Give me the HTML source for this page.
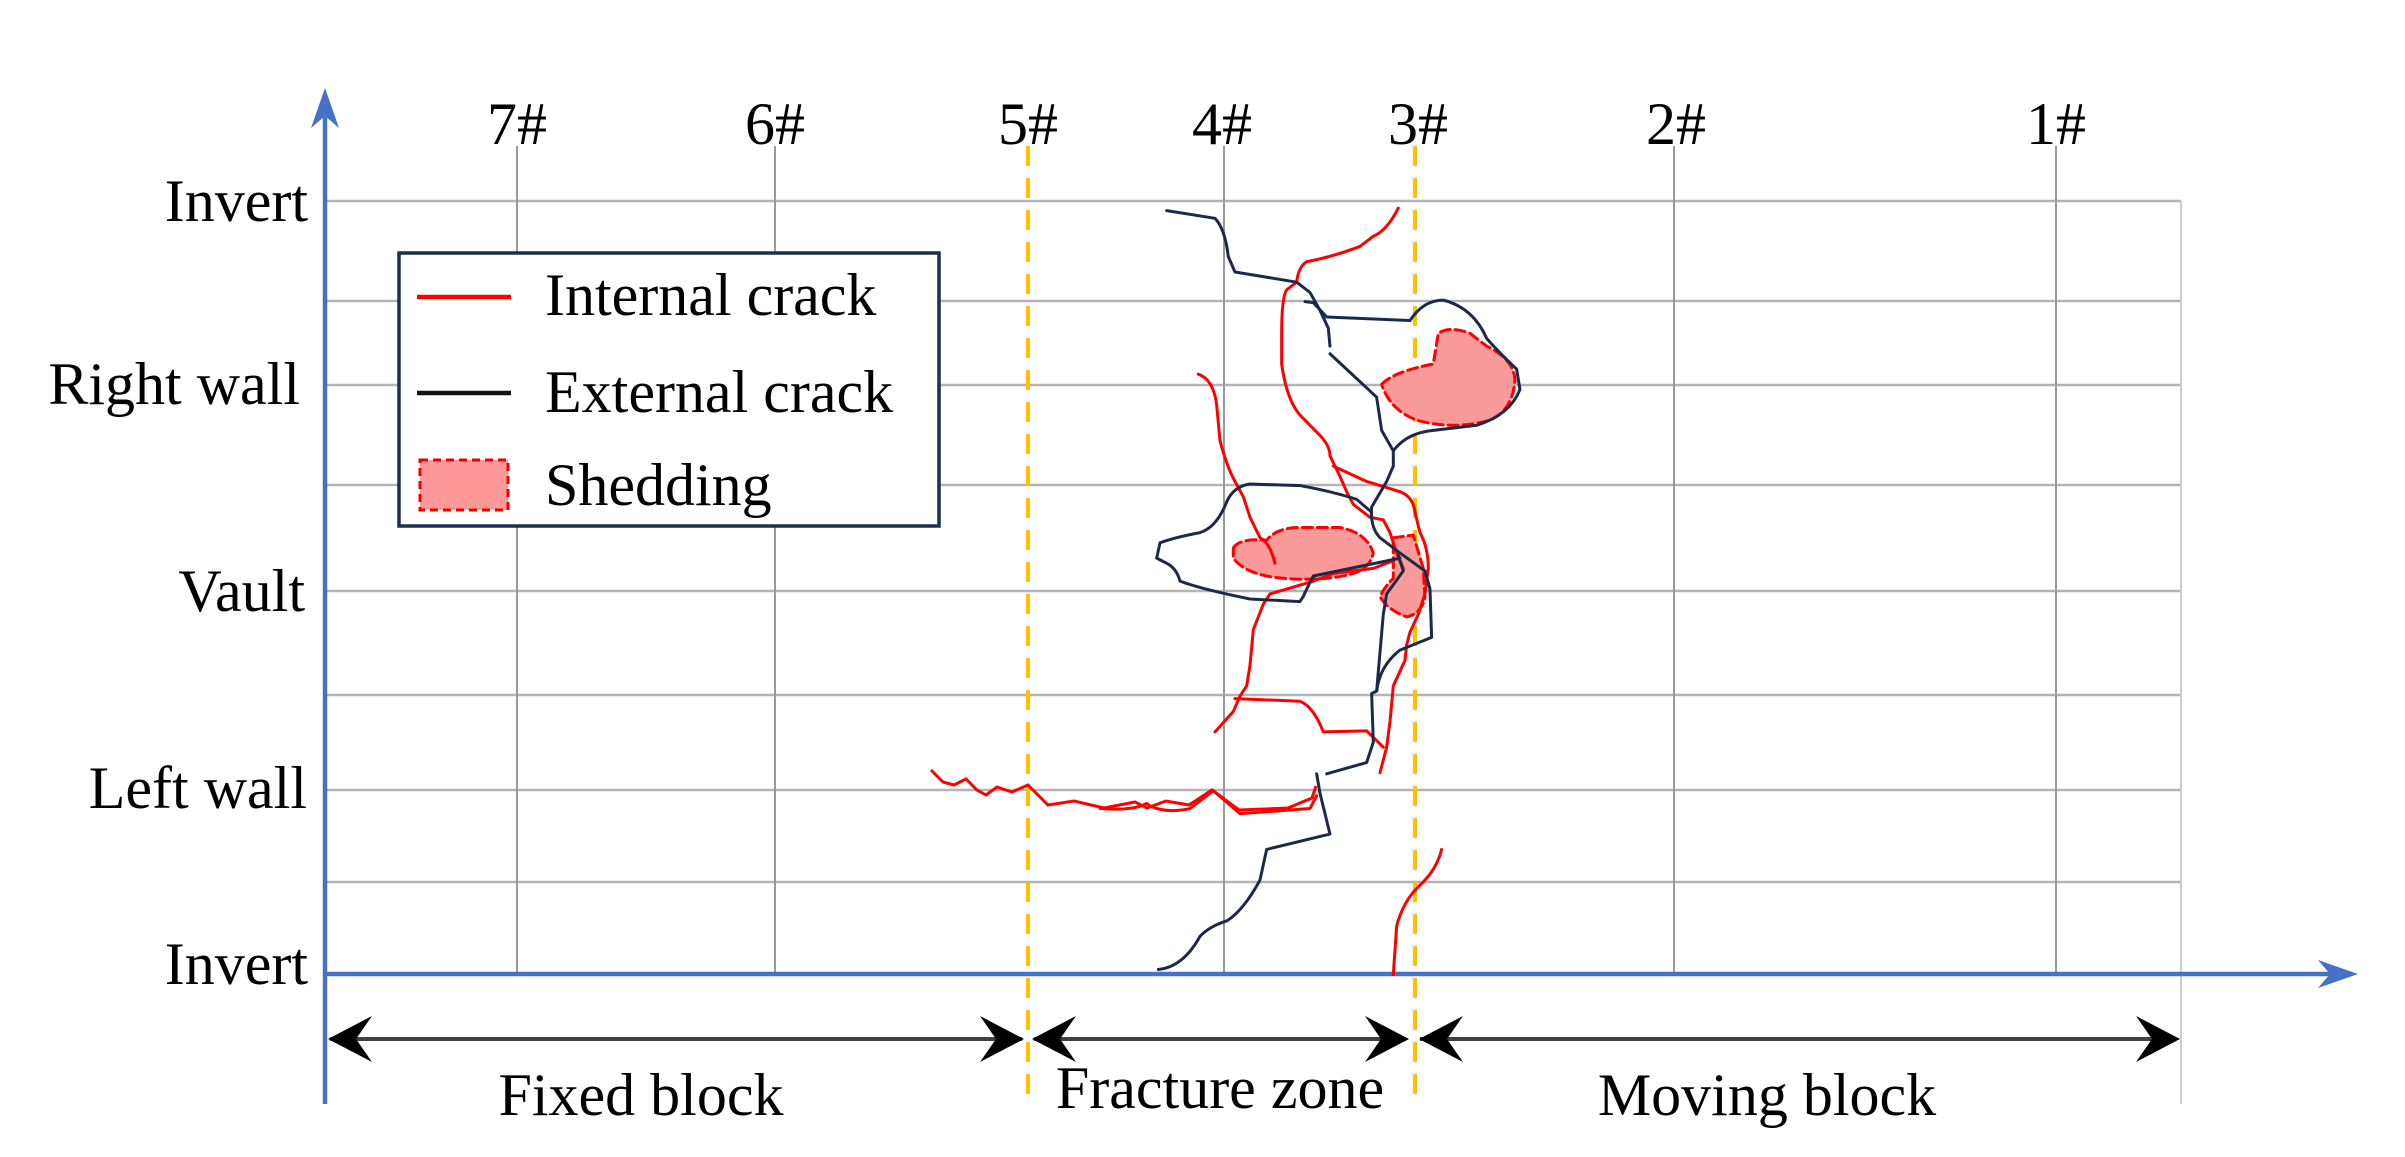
<!DOCTYPE html>
<html><head><meta charset="utf-8"><style>
html,body{margin:0;padding:0;background:#fff;}
svg{display:block;}
text{font-family:"Liberation Serif",serif;fill:#000;}
</style></head><body>
<svg width="2405" height="1157" viewBox="0 0 2405 1157" xmlns="http://www.w3.org/2000/svg">
<!-- grid horizontals -->
<g stroke="#b4b4b4" stroke-width="2.5">
<line x1="325" y1="201" x2="2181" y2="201"/>
<line x1="325" y1="301" x2="2181" y2="301"/>
<line x1="325" y1="385" x2="2181" y2="385"/>
<line x1="325" y1="485" x2="2181" y2="485"/>
<line x1="325" y1="591" x2="2181" y2="591"/>
<line x1="325" y1="695" x2="2181" y2="695"/>
<line x1="325" y1="790" x2="2181" y2="790"/>
<line x1="325" y1="882" x2="2181" y2="882"/>
</g>
<g stroke="#999" stroke-width="2">
<line x1="517" y1="146" x2="517" y2="974"/>
<line x1="775" y1="146" x2="775" y2="974"/>
<line x1="1224" y1="146" x2="1224" y2="974"/>
<line x1="1674" y1="146" x2="1674" y2="974"/>
<line x1="2056" y1="146" x2="2056" y2="974"/>
<line x1="2181" y1="201" x2="2181" y2="1104" stroke="#ccc"/>
</g>
<!-- orange dashed -->
<g stroke="#ffc000" stroke-width="4" stroke-dasharray="20,12">
<line x1="1028" y1="146" x2="1028" y2="1104"/>
<line x1="1415" y1="146" x2="1415" y2="1104"/>
</g>
<!-- axes -->
<g stroke="#4472c4" stroke-width="4.5" fill="none">
<line x1="325" y1="110" x2="325" y2="1104"/>
<line x1="325" y1="974" x2="2340" y2="974"/>
</g>
<path d="M325,88 L311,128 L325,116 L339,128 Z" fill="#4472c4"/>
<path d="M2358,974 L2318,960 L2330,974 L2318,988 Z" fill="#4472c4"/>
<!-- column labels -->
<g font-size="60" text-anchor="middle">
<text x="517" y="144">7#</text>
<text x="775" y="144">6#</text>
<text x="1028" y="144">5#</text>
<text x="1222" y="144">4#</text>
<text x="1418" y="144">3#</text>
<text x="1676" y="144">2#</text>
<text x="2056" y="144">1#</text>
</g>
<g font-size="60" text-anchor="end">
<text x="308" y="221">Invert</text>
<text x="300" y="404">Right wall</text>
<text x="305" y="611">Vault</text>
<text x="307" y="808">Left wall</text>
<text x="308" y="984">Invert</text>
</g>
<!-- bottom arrows -->
<g stroke="#404040" stroke-width="4">
<line x1="330" y1="1039" x2="1022" y2="1039"/>
<line x1="1034" y1="1039" x2="1406" y2="1039"/>
<line x1="1420" y1="1039" x2="2176" y2="1039"/>
</g>
<g fill="#000">
<path d="M328,1039 L372,1016 L356,1039 L372,1062 Z"/>
<path d="M1024,1039 L980,1016 L996,1039 L980,1062 Z"/>
<path d="M1032,1039 L1076,1016 L1060,1039 L1076,1062 Z"/>
<path d="M1409,1039 L1365,1016 L1381,1039 L1365,1062 Z"/>
<path d="M1419,1039 L1463,1016 L1447,1039 L1463,1062 Z"/>
<path d="M2180,1039 L2136,1016 L2152,1039 L2136,1062 Z"/>
</g>
<g font-size="60" text-anchor="middle">
<text x="641" y="1115">Fixed block</text>
<text x="1220" y="1108">Fracture zone</text>
<text x="1767" y="1115">Moving block</text>
</g>
<!-- legend -->
<rect x="399" y="253" width="540" height="273" fill="#fff" stroke="#1f2d50" stroke-width="3.5"/>
<line x1="417" y1="297" x2="511" y2="297" stroke="#f00" stroke-width="4.5"/>
<line x1="417" y1="393" x2="511" y2="393" stroke="#111" stroke-width="4.5"/>
<rect x="420" y="460" width="88" height="50" fill="#f99" stroke="#e00" stroke-width="3" stroke-dasharray="8,5"/>
<g font-size="60">
<text x="545" y="315">Internal crack</text>
<text x="545" y="412">External crack</text>
<text x="545" y="505">Shedding</text>
</g>
<!-- left wall crack -->
<path d="M931,770 L943,782 L954,785 L966,779 L977,790 L986,795 L997,787 L1012,792 L1028,785 L1048,805 L1074,801 L1104,808 L1135,802 L1147,808 L1166,801 L1189,805 L1212,790 L1239,810 L1288,808 L1312,798 L1316,786" fill="none" stroke="#f00" stroke-width="3"/>
<!-- cracks in zoom coords -->
<g transform="translate(1100,180) scale(0.3333,0.511)" fill="none" stroke-width="3" stroke-linejoin="round" stroke-linecap="round">
<g fill="#fa9a9a" stroke="#f00" stroke-width="3" stroke-dasharray="10,5">
<path vector-effect="non-scaling-stroke" d="M845,400 Q880,375 1000,360 L1015,300 Q1050,285 1110,300 L1160,325 Q1240,350 1245,390 Q1240,450 1170,470 Q1060,490 950,470 Q870,450 845,400 Z"/>
<path vector-effect="non-scaling-stroke" d="M400,720 Q420,700 500,705 Q530,680 600,680 L720,680 Q800,690 820,730 Q810,760 760,770 Q680,785 560,780 Q440,775 400,740 Z"/>
<path vector-effect="non-scaling-stroke" d="M880,700 L940,695 L970,760 L975,820 Q960,850 920,855 Q860,840 840,815 Q860,790 880,780 Z"/>
</g>
<g stroke="#f00">
<path vector-effect="non-scaling-stroke" d="M895,55 Q860,100 820,110 L780,130 Q700,150 620,160 Q595,170 590,200 L560,215 Q545,230 545,300 L545,360 Q560,430 600,460 L660,500 Q690,520 690,540 L720,580 L740,610 L760,635 L810,660 L850,665 L870,690 L890,730 L910,760"/>
<path vector-effect="non-scaling-stroke" d="M295,380 Q340,390 350,440 L360,510 Q380,560 405,590 L430,620 L450,660 L480,700 Q510,710 525,750"/>
<path vector-effect="non-scaling-stroke" d="M700,560 L800,590 L900,610 Q940,620 945,650 L960,690 Q985,720 985,760 L975,810 L955,850 L930,885 L920,910 L915,940 L880,990 L870,1060 L860,1110 L840,1160"/>
<path vector-effect="non-scaling-stroke" d="M880,745 L820,760 L700,770 L640,785 L510,810 L490,830 L460,880 L450,950 L440,990 L420,1010 L400,1040 L345,1080"/>
<path vector-effect="non-scaling-stroke" d="M405,1015 L600,1020 Q640,1030 670,1080 L800,1078 L850,1110"/>
<path vector-effect="non-scaling-stroke" d="M880,1555 L890,1460 Q910,1410 960,1380 Q1010,1350 1025,1310"/>
<path vector-effect="non-scaling-stroke" d="M0,1230 Q100,1235 140,1220 L150,1225 Q200,1240 270,1230 L340,1195 L420,1240 L630,1230 L650,1205"/>
</g>
<g stroke="#1c2a4a">
<path vector-effect="non-scaling-stroke" d="M200,60 L345,75 Q375,95 385,150 L405,180 L590,200 L630,220 L660,255 L685,290 L690,325"/>
<path vector-effect="non-scaling-stroke" d="M615,238 L640,240 L680,268 L930,275 Q970,235 1030,235 Q1120,250 1160,310 Q1200,340 1250,370 L1260,410 Q1230,460 1130,480 L1000,490 Q920,495 880,530 L845,490 L830,425 L690,340"/>
<path vector-effect="non-scaling-stroke" d="M880,530 L880,560 L860,590 L815,640 Q810,680 840,700 L900,730 L975,765 L990,800 L995,895 L900,920 Q840,950 830,1000"/>
<path vector-effect="non-scaling-stroke" d="M830,1000 L850,850 L860,810 L910,765 L895,735"/>
<path vector-effect="non-scaling-stroke" d="M900,740 L640,775 Q620,800 610,815 L600,825 L450,820 Q300,800 240,785 Q230,760 200,750 L170,740 L180,710 Q220,700 300,690 Q350,680 380,630 Q400,600 450,595 L600,598 Q700,610 770,625 L815,650"/>
<path vector-effect="non-scaling-stroke" d="M830,1000 L815,1005 L820,1100 L800,1140 L680,1162"/>
<path vector-effect="non-scaling-stroke" d="M650,1162 L660,1200 L690,1280 L500,1310 L480,1370 Q430,1430 380,1450 Q330,1460 300,1480 Q250,1540 175,1545"/>
</g>
</g>
</svg>
</body></html>
